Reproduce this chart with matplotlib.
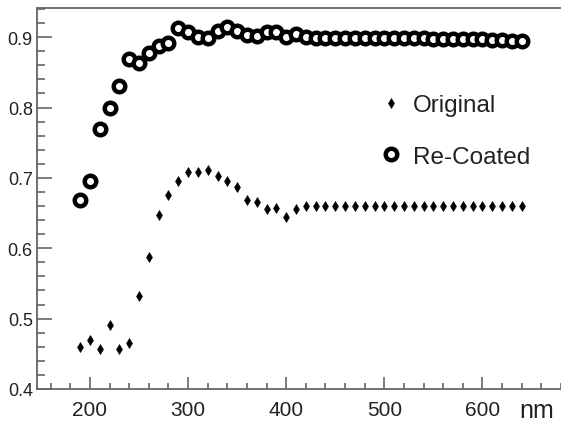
import matplotlib
matplotlib.use("Agg")
import matplotlib.pyplot as plt
from matplotlib.ticker import MultipleLocator

plt.rcParams['font.family'] = ['Liberation Sans', 'DejaVu Sans']

wavelength = list(range(190, 650, 10))

original = [0.459, 0.469, 0.457, 0.491, 0.457, 0.465, 0.532, 0.588, 0.647, 0.676,
            0.696, 0.708, 0.708, 0.711, 0.703, 0.696, 0.687, 0.669, 0.666, 0.656,
            0.657, 0.644, 0.656, 0.660, 0.660, 0.660, 0.660, 0.660, 0.660, 0.660,
            0.660, 0.660, 0.660, 0.660, 0.660, 0.660, 0.660, 0.660, 0.660, 0.660,
            0.660, 0.660, 0.660, 0.660, 0.660, 0.660]

recoated = [0.669, 0.696, 0.770, 0.800, 0.830, 0.869, 0.863, 0.877, 0.888, 0.892,
            0.913, 0.907, 0.900, 0.899, 0.909, 0.915, 0.909, 0.903, 0.902, 0.908,
            0.908, 0.900, 0.905, 0.900, 0.899, 0.899, 0.899, 0.899, 0.899, 0.899,
            0.899, 0.899, 0.899, 0.899, 0.899, 0.899, 0.898, 0.898, 0.898, 0.897,
            0.897, 0.897, 0.896, 0.896, 0.895, 0.895]

labels = ["Original", "Re-Coated"]

fig = plt.figure(figsize=(5.61, 4.27), dpi=100)
ax = fig.add_axes([37/561, 37/427, 1 - 37/561, (390 - 9)/427])

ax.plot(wavelength, recoated, linestyle='none', marker='o', ms=8.3, mew=3.2,
        mec='black', mfc='white', label=labels[1])
ax.plot(wavelength, original, linestyle='none', marker='d', ms=5.6,
        mec='black', mfc='black', mew=0.4, label=labels[0])

ax.set_xlim(146, 680)
ax.set_ylim(0.4, 0.9415)

ax.xaxis.set_major_locator(MultipleLocator(100))
ax.xaxis.set_minor_locator(MultipleLocator(20))
ax.yaxis.set_major_locator(MultipleLocator(0.1))
ax.yaxis.set_minor_locator(MultipleLocator(0.02))
ax.set_xticks([200, 300, 400, 500, 600])
ax.set_xticklabels(['200', '300', '400', '500', '600'])

spine_color = '#666666'
for s in ['left', 'bottom', 'top']:
    ax.spines[s].set_color(spine_color)
    ax.spines[s].set_linewidth(1.3)
ax.spines['right'].set_visible(False)

ax.tick_params(axis='both', which='both', direction='in', color=spine_color,
               labelcolor='#222222', width=1.2)
ax.tick_params(axis='y', which='major', length=10.5, labelsize=13, pad=3)
ax.tick_params(axis='y', which='minor', length=5.5)
ax.tick_params(axis='x', which='major', length=8.5, labelsize=15, pad=8)
ax.tick_params(axis='x', which='minor', length=4)

fig.text(537/561, 1 - 411/427, 'nm', fontsize=18, color='#222222',
         ha='center', va='center')

h, l = ax.get_legend_handles_labels()
leg = ax.legend([h[1], h[0]], [l[1], l[0]], loc='upper left',
                bbox_to_anchor=(379/561, 1 - 95/427), bbox_transform=fig.transFigure,
                frameon=False, fontsize=17.5, handlelength=1.0, handletextpad=0.4,
                labelspacing=1.22, borderpad=0, borderaxespad=0)
for t in leg.get_texts():
    t.set_color('#222222')

fig.savefig('out.png', dpi=100)
